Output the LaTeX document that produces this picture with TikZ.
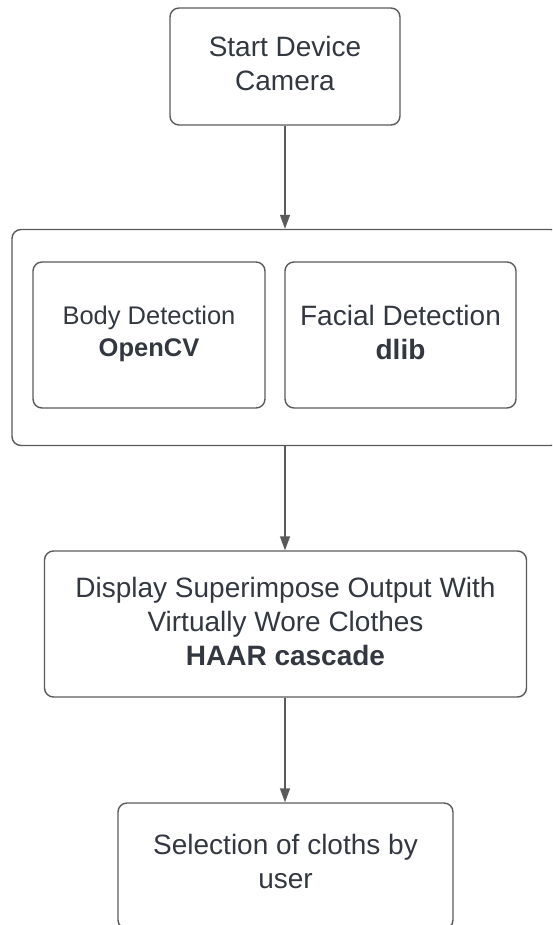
\documentclass[tikz,border=0pt]{standalone}
\usepackage{fontspec}
\setmainfont{Liberation Sans}
\usetikzlibrary{arrows.meta}
\definecolor{txt}{HTML}{333840}
\definecolor{ln}{HTML}{5A5A5A}
\tikzset{
  box/.style={draw=ln, line width=1.4pt, rounded corners=9pt, rectangle, inner sep=0pt},
  lbl/.style={inner sep=0pt, align=center, text=txt, font=\fontsize{28}{34}\selectfont},
  flow/.style={draw=ln, line width=1.4pt, -{Triangle[length=14pt,width=10pt]}},
}
\begin{document}
\begin{tikzpicture}[x=1pt,y=-1pt]
\useasboundingbox (0,0) rectangle (552,925);
\clip (0,0) rectangle (552,925);
\node[box, minimum width=230pt, minimum height=117pt] (start) at (285,66.5) {};
\node[lbl] (startt) at (285,63.5) {Start Device\\Camera};
\node[box, minimum width=548pt, minimum height=216pt] (cont) at (286,337.5) {};
\node[box, minimum width=232pt, minimum height=146pt] (body) at (149,335) {};
\node[lbl, font=\fontsize{25.5}{32}\selectfont] (bodyt) at (149,334) {Body Detection\\\textbf{OpenCV}};
\node[box, minimum width=231pt, minimum height=146pt] (face) at (400.5,335) {};
\node[lbl] (facet) at (400.5,332) {Facial Detection\\\textbf{dlib}};
\node[box, minimum width=482pt, minimum height=146pt] (disp) at (285.5,624) {};
\node[lbl] (dispt) at (285.5,621) {Display Superimpose Output With\\Virtually Wore Clothes\\\textbf{HAAR cascade}};
\node[box, minimum width=335pt, minimum height=126pt] (sel) at (285.5,866) {};
\node[lbl] (selt) at (285.5,861) {Selection of cloths by\\user};
\draw[flow] (start.south) -- (start.south |- cont.north);
\draw[flow] (start.south |- cont.south) -- (start.south |- disp.north);
\draw[flow] (start.south |- disp.south) -- (start.south |- sel.north);
\end{tikzpicture}
\end{document}
